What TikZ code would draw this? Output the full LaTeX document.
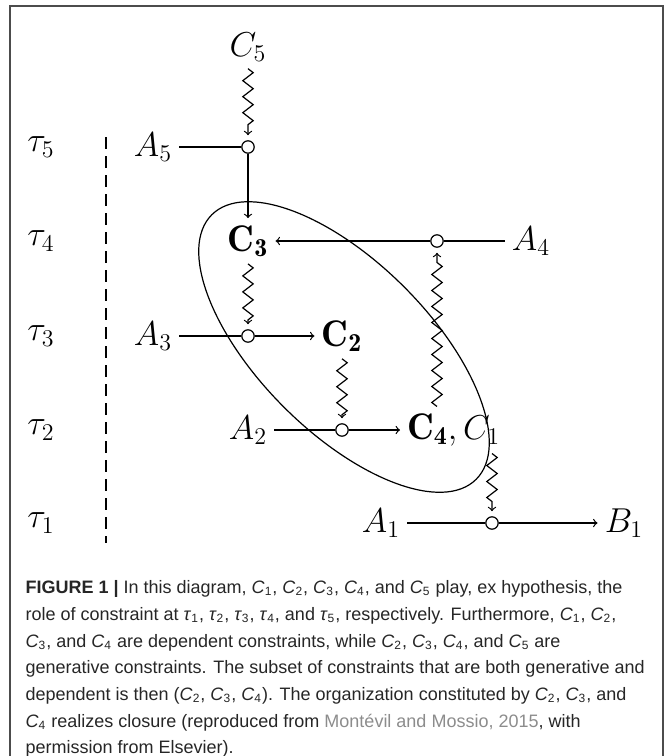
\documentclass[tikz,border=0pt]{standalone}
\usepackage{fontspec}
\newfontfamily\capfont{Liberation Sans}
\usetikzlibrary{decorations.pathmorphing}

\newcommand{\capC}[1]{\textit{C}\textsubscript{#1}}
\newcommand{\capT}[1]{\textit{τ}\textsubscript{#1}}

\begin{document}
\begin{tikzpicture}[x=0.5pt, y=-0.5pt, line width=0.6pt,
    every node/.style={font=\fontsize{18.5}{22}\selectfont},
    junction/.style={circle, draw, inner sep=0pt, minimum size=6.2pt},
    drives/.style={->, decorate, decoration={zigzag, segment length=8pt, amplitude=2.6pt, post length=4pt}, shorten >=2.5pt}]
    \useasboundingbox (0,0) rectangle (665,756);
    % Frame
    \draw[black!70, line width=0.8pt] (10,800) -- (10,6) -- (663,6) -- (663,800);

    % Time levels
    \node (t5) at (41,147) {$\tau_5$};
    \node (t4) at (41,241) {$\tau_4$};
    \node (t3) at (41,336) {$\tau_3$};
    \node (t2) at (41,430) {$\tau_2$};
    \node (t1) at (41,523) {$\tau_1$};
    \draw[dash pattern=on 6pt off 3.5pt] (106,137) -- (106,543);

    % Constraints and processes
    \node (C5) at (248,47) {$C_5$};
    \node (A5) at (153,147) {$A_5$};
    \node[junction] (j5) at (248,147) {};
    \node (C3) at (248,241) {$\mathbf{C_3}$};
    \node[junction] (j4) at (437,241) {};
    \node (A4) at (531,241) {$A_4$};
    \node (A3) at (153,336) {$A_3$};
    \node[junction] (j3) at (248,336) {};
    \node (C2) at (342,336) {$\mathbf{C_2}$};
    \node (A2) at (248,430) {$A_2$};
    \node[junction] (j2) at (342,430) {};
    \node[anchor=west] (C41) at (400,430) {$\mathbf{C_4}, C_1$};
    \node (A1) at (381,523) {$A_1$};
    \node[junction] (j1) at (492,523) {};
    \node (B1) at (624,523) {$B_1$};

    % Flows
    \draw (A5) -- (j5);
    \draw[->] (j5) -- (C3);
    \draw (A4) -- (j4);
    \draw[->] (j4) -- (C3);
    \draw (A3) -- (j3);
    \draw[->] (j3) -- (C2);
    \draw (A2) -- (j2);
    \draw[->] (j2) -- (C41);
    \draw (A1) -- (j1);
    \draw[->] (j1) -- (B1);

    % Constraint actions
    \draw[drives] (C5) -- (j5);
    \draw[drives] (C3) -- (j3);
    \draw[drives] (C2) -- (j2);
    \draw[drives] (C41.north -| j4) -- (j4);
    \draw[drives] (C41.south -| j1) -- (j1);

    % Closure
    \draw[rotate around={-45:(344,347)}] (344,347) ellipse [x radius=187, y radius=85];

    % Caption
    \node (caption) [anchor=north west, inner sep=0pt, align=left, text=black!85,
        font=\capfont\fontsize{9}{13.35}\selectfont] at (25,580) {%
        \textbf{FIGURE 1 |} In this diagram, \capC{1}, \capC{2}, \capC{3}, \capC{4}, and \capC{5} play, ex hypothesis, the\\
        role of constraint at \capT{1}, \capT{2}, \capT{3}, \capT{4}, and \capT{5}, respectively. Furthermore, \capC{1}, \capC{2},\\
        \capC{3}, and \capC{4} are dependent constraints, while \capC{2}, \capC{3}, \capC{4}, and \capC{5} are\\
        generative constraints. The subset of constraints that are both generative and\\
        dependent is then (\capC{2}, \capC{3}, \capC{4}). The organization constituted by \capC{2}, \capC{3}, and\\
        \capC{4} realizes closure (reproduced from \textcolor{black!45}{Montévil and Mossio, 2015}, with\\
        permission from Elsevier).};
\end{tikzpicture}
\end{document}
